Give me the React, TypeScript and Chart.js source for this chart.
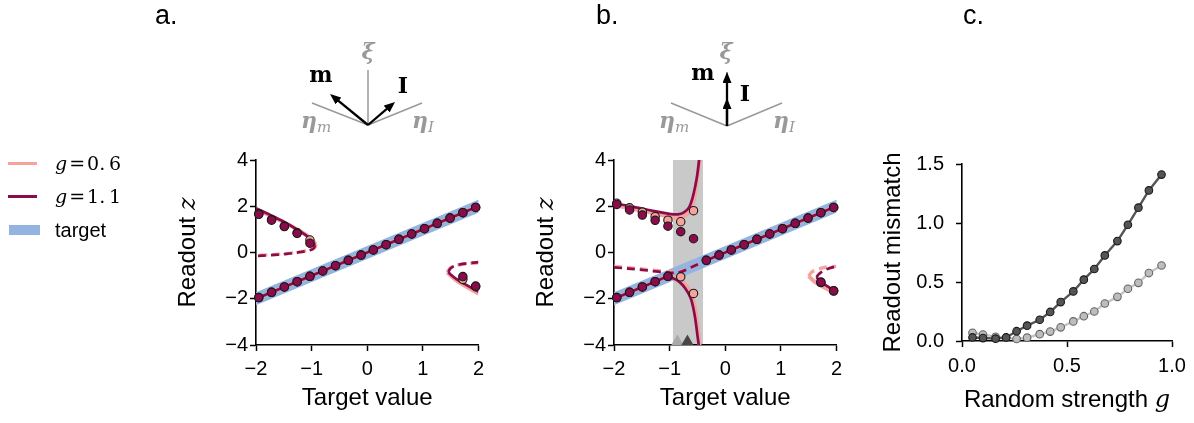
import React, { useEffect, useRef } from "react";
import { Chart, registerables } from "chart.js";
Chart.register(...registerables);

const SANS = "'Liberation Sans', Arial, Helvetica, sans-serif";
const SERIF = "'DejaVu Serif', serif";
const PINK = "#f6a39c";
const CRIMSON = "#8c0b4b";
const BLUE = "#93b4e0";
const BAND_GRAY = "#c9c9c9";

// ---------- ticks ----------
const abXTicks = [-2, -1, 0, 1, 2];
const abXLabels = ["\u22122", "\u22121", "0", "1", "2"];
const abYTicks = [-4, -2, 0, 2, 4];
const abYLabels = ["\u22124", "\u22122", "0", "2", "4"];
const cXTicks = [0, 0.5, 1.0];
const cXLabels = ["0.0", "0.5", "1.0"];
const cYTicks = [0, 0.5, 1.0, 1.5];
const cYLabels = ["0.0", "0.5", "1.0", "1.5"];

// ---------- shared: target line (y = x) ----------
const targetX = [-2.5, 2.5];
const targetY = [-2.5, 2.5];

// ---------- panel a ----------
const aMainX = [-2, 2];
const aMainY = [-2, 2];
const aUp11X = [-2, -1.75, -1.5, -1.25, -1.1, -1.0, -0.94];
const aUp11Y = [1.91, 1.63, 1.33, 0.98, 0.74, 0.53, 0.32];
const aUpDash11X = [-0.94, -0.96, -1.03, -1.2, -1.45, -1.75, -2];
const aUpDash11Y = [0.32, 0.19, 0.1, 0.02, -0.06, -0.12, -0.15];
const aUp06X = [-2, -1.75, -1.5, -1.25, -1.1, -1.0, -0.92];
const aUp06Y = [1.87, 1.6, 1.31, 0.98, 0.76, 0.57, 0.36];
const aUpDash06X = [-0.92, -0.94, -1.01, -1.2, -1.5, -2];
const aUpDash06Y = [0.36, 0.22, 0.12, 0.03, -0.06, -0.13];
const aRt11X = [1.46, 1.5, 1.6, 1.75, 1.9, 2];
const aRt11Y = [-0.84, -0.95, -1.14, -1.36, -1.56, -1.69];
const aRtDash11X = [1.46, 1.5, 1.6, 1.75, 1.9, 2];
const aRtDash11Y = [-0.84, -0.68, -0.56, -0.48, -0.44, -0.42];
const aRt06X = [1.44, 1.5, 1.6, 1.75, 1.9, 2];
const aRt06Y = [-0.86, -1.0, -1.2, -1.43, -1.64, -1.78];
const aRtDash06X = [1.44, 1.48, 1.58, 1.72, 1.88, 2];
const aRtDash06Y = [-0.86, -0.7, -0.58, -0.51, -0.47, -0.45];

const aDotMainX = [-1.95, -1.72, -1.49, -1.26, -1.03, -0.8, -0.57, -0.34, -0.11, 0.11, 0.34, 0.57, 0.8, 1.03, 1.26, 1.49, 1.72, 1.95];
const aDotMainY = [-1.95, -1.72, -1.49, -1.26, -1.03, -0.8, -0.57, -0.34, -0.11, 0.11, 0.34, 0.57, 0.8, 1.03, 1.26, 1.49, 1.72, 1.95];
const aDotUpX = [-1.95, -1.72, -1.49, -1.26, -1.03];
const aDotUp11Y = [1.65, 1.4, 1.12, 0.83, 0.4];
const aDotUp06Y = [1.68, 1.42, 1.14, 0.85, 0.54];
const aDotRtX = [1.72, 1.95];
const aDotRt11Y = [-1.04, -1.45];
const aDotRt06Y = [-1.16, -1.48];

// ---------- panel b ----------
const bBand = [-0.94, -0.4];
const bMainRtX = [-0.4, 2];
const bMainRtY = [-0.4, 2];
const bLow11X = [-2, -1.5, -1.2, -1.05, -0.95, -0.83, -0.72, -0.62, -0.55, -0.5, -0.46];
const bLow11Y = [-2, -1.5, -1.2, -1.06, -1.1, -1.26, -1.55, -1.98, -2.7, -3.57, -4.3];
const bLow06X = [-2, -1.5, -1.2, -1.05, -0.93, -0.8, -0.68, -0.59, -0.53, -0.49, -0.45];
const bLow06Y = [-2, -1.5, -1.2, -1.04, -1.06, -1.2, -1.5, -1.95, -2.6, -3.4, -4.3];
const bUp11X = [-2, -1.75, -1.5, -1.25, -1.0, -0.85, -0.75, -0.65, -0.59, -0.54, -0.5, -0.47, -0.45];
const bUp11Y = [2.12, 2.02, 1.9, 1.78, 1.67, 1.65, 1.72, 1.95, 2.34, 2.85, 3.4, 4.0, 4.4];
const bUp06X = [-2, -1.75, -1.5, -1.25, -1.0, -0.88, -0.75, -0.65, -0.58, -0.53, -0.49, -0.46, -0.44];
const bUp06Y = [2.05, 1.93, 1.8, 1.67, 1.55, 1.5, 1.56, 1.75, 2.15, 2.75, 3.45, 4.0, 4.4];
const bDash11X = [-2, -1.5, -1.2, -1.0, -0.83, -0.6, -0.4];
const bDash11Y = [-0.64, -0.75, -0.83, -0.88, -0.86, -0.63, -0.4];
const bDash06X = [-2, -1.5, -1.2, -1.0, -0.83, -0.6, -0.42];
const bDash06Y = [-0.6, -0.71, -0.79, -0.84, -0.83, -0.62, -0.42];
const bRt11X = [1.64, 1.72, 1.85, 2];
const bRt11Y = [-1.07, -1.27, -1.48, -1.72];
const bRtDash11X = [1.64, 1.7, 1.85, 2];
const bRtDash11Y = [-1.07, -0.9, -0.7, -0.6];
const bRt06X = [1.5, 1.6, 1.75, 1.9, 2];
const bRt06Y = [-1.02, -1.25, -1.47, -1.66, -1.78];
const bRtDash06X = [1.5, 1.56, 1.67, 1.8, 2];
const bRtDash06Y = [-1.02, -0.84, -0.72, -0.64, -0.6];

const bDotMainX = [-1.95, -1.72, -1.49, -1.26, -1.03, -0.34, -0.11, 0.11, 0.34, 0.57, 0.8, 1.03, 1.26, 1.49, 1.72, 1.95];
const bDotMainY = [-1.95, -1.72, -1.49, -1.26, -1.03, -0.34, -0.11, 0.11, 0.34, 0.57, 0.8, 1.03, 1.26, 1.49, 1.72, 1.95];
const bDotUpX = [-1.95, -1.72, -1.49, -1.26, -1.03, -0.8, -0.57];
const bDotUp11Y = [2.08, 1.84, 1.62, 1.39, 1.14, 0.9, 0.6];
const bDotUp06Y = [2.13, 1.93, 1.75, 1.55, 1.4, 1.33, 1.81];
const bDotLow06X = [-0.8, -0.57];
const bDotLow06Y = [-1.05, -1.77];
const bDotRtX = [1.72, 1.95];
const bDotRt11Y = [-1.28, -1.65];
const bDotRt06Y = [-1.3, -1.67];
const bTriX = [-0.86, -0.68];
const bTriY = [-3.85, -3.85];

// ---------- panel c ----------
const gValues = [0.05, 0.1, 0.16, 0.21, 0.26, 0.31, 0.37, 0.42, 0.47, 0.53, 0.58, 0.63, 0.68, 0.74, 0.79, 0.84, 0.89, 0.95];
const mismatchDark = [0.03, 0.025, 0.02, 0.03, 0.083, 0.13, 0.18, 0.246, 0.33, 0.42, 0.52, 0.61, 0.725, 0.847, 0.985, 1.13, 1.276, 1.41];
const mismatchLight = [0.069, 0.055, 0.035, 0.028, 0.017, 0.028, 0.058, 0.08, 0.116, 0.166, 0.21, 0.25, 0.318, 0.374, 0.443, 0.493, 0.576, 0.64];

// ---------- helpers ----------
type Pt = { x: number; y: number };
const zip = (xs: number[], ys: number[]): Pt[] => xs.map((x, i) => ({ x, y: ys[i] }));

const CW = 2.7; // crimson width
const PW = 4; // pink width

function lineDs(xs: number[], ys: number[], color: string, width: number, dashed = false, extra: any = {}) {
  return {
    data: zip(xs, ys),
    showLine: true,
    borderColor: color,
    borderWidth: width,
    borderDash: dashed ? [8, 5] : [],
    borderCapStyle: "butt",
    pointRadius: 0,
    pointHoverRadius: 0,
    tension: 0.35,
    fill: false,
    ...extra,
  };
}
function dotDs(pts: Pt[], fill: string, edge = "#1a1a1a", r = 4.2) {
  return {
    data: pts,
    showLine: false,
    pointRadius: r,
    pointHoverRadius: r,
    pointBackgroundColor: fill,
    pointBorderColor: edge,
    pointBorderWidth: 1.1,
    clip: false,
  };
}

const richTitles = {
  id: "richTitles",
  afterDraw(chart: any) {
    const o = chart.options.plugins.richTitles;
    if (!o) return;
    const { ctx, chartArea: a } = chart;
    const measure = (parts: any[]) =>
      parts.reduce((s, p) => {
        ctx.font = p.font;
        return s + ctx.measureText(p.text).width;
      }, 0);
    const draw = (parts: any[], x0: number, y0: number) => {
      let x = x0;
      for (const p of parts) {
        ctx.font = p.font;
        ctx.fillText(p.text, x, y0);
        x += ctx.measureText(p.text).width;
      }
    };
    ctx.save();
    ctx.fillStyle = "#000";
    ctx.textAlign = "left";
    ctx.textBaseline = "alphabetic";
    if (o.x) {
      const w = measure(o.x.parts);
      draw(o.x.parts, (a.left + a.right) / 2 - w / 2, a.bottom + o.x.offset);
    }
    if (o.y) {
      ctx.translate(a.left - o.y.offset, (a.top + a.bottom) / 2);
      ctx.rotate(-Math.PI / 2);
      const w = measure(o.y.parts);
      draw(o.y.parts, -w / 2, 0);
    }
    ctx.restore();
  },
};

const shadeBand = {
  id: "shadeBand",
  beforeDraw(chart: any) {
    const o = chart.options.plugins.shadeBand;
    if (!o) return;
    const { ctx, chartArea: a, scales } = chart;
    const x0 = scales.x.getPixelForValue(o.range[0]);
    const x1 = scales.x.getPixelForValue(o.range[1]);
    ctx.save();
    ctx.fillStyle = o.color;
    ctx.fillRect(x0, a.top, x1 - x0, a.bottom - a.top);
    ctx.restore();
  },
};

function axis(ticks: number[], labels: string[], min: number, max: number, fit: (s: any) => void, pad: number) {
  return {
    type: "linear",
    min,
    max,
    afterBuildTicks: (s: any) => {
      s.ticks = ticks.map((v) => ({ value: v }));
    },
    ticks: {
      callback: (_v: any, i: number) => labels[i],
      color: "#000",
      font: { family: SANS, size: 20 },
      padding: pad,
      maxRotation: 0,
      autoSkip: false,
    },
    grid: { drawOnChartArea: false, drawTicks: true, tickLength: 6, tickWidth: 1.5, tickColor: "#000" },
    border: { display: true, color: "#000", width: 1.6 },
    afterFit: fit,
  };
}

const sansT = `24px ${SANS}`;
const italT = `italic 24px ${SERIF}`;

function baseOptions(padRight: number, xAxis: any, yAxis: any, titles: any, extraPlugins: any = {}) {
  return {
    responsive: false,
    animation: false,
    layout: { padding: { left: 0, top: 20, right: padRight, bottom: 0 } },
    scales: { x: xAxis, y: yAxis },
    plugins: { legend: { display: false }, tooltip: { enabled: false }, richTitles: titles, ...extraPlugins },
    events: [],
  };
}

function configA() {
  const datasets: any[] = [
    dotDs([...zip(aDotMainX, aDotMainY), ...zip(aDotUpX, aDotUp11Y), ...zip(aDotRtX, aDotRt11Y)], CRIMSON),
    dotDs([...zip(aDotMainX, aDotMainY), ...zip(aDotUpX, aDotUp06Y), ...zip(aDotRtX, aDotRt06Y)], PINK),
    lineDs(aMainX, aMainY, CRIMSON, CW),
    lineDs(aUp11X, aUp11Y, CRIMSON, CW),
    lineDs(aUpDash11X, aUpDash11Y, CRIMSON, CW, true),
    lineDs(aRt11X, aRt11Y, CRIMSON, CW),
    lineDs(aRtDash11X, aRtDash11Y, CRIMSON, CW, true),
    lineDs(aMainX, aMainY, PINK, PW),
    lineDs(aUp06X, aUp06Y, PINK, PW),
    lineDs(aUpDash06X, aUpDash06Y, PINK, 3.4, true),
    lineDs(aRt06X, aRt06Y, PINK, PW),
    lineDs(aRtDash06X, aRtDash06Y, PINK, 3.4, true),
    lineDs(targetX, targetY, BLUE, 12, false, { tension: 0, clip: 0 }),
  ];
  return {
    type: "scatter",
    data: { datasets },
    options: baseOptions(
      11,
      axis(abXTicks, abXLabels, -2, 2, (s: any) => { s.height = 78; }, 6),
      axis(abYTicks, abYLabels, -4, 4, (s: any) => { s.width = 86; }, 2),
      {
        x: { parts: [{ text: "Target value", font: sansT }], offset: 60 },
        y: { parts: [{ text: "Readout ", font: sansT }, { text: "z", font: italT }], offset: 61 },
      }
    ),
    plugins: [richTitles],
  };
}

function configB() {
  const datasets: any[] = [
    dotDs([...zip(bDotMainX, bDotMainY), ...zip(bDotUpX, bDotUp11Y), ...zip(bDotRtX, bDotRt11Y)], CRIMSON),
    dotDs([...zip(bDotMainX, bDotMainY), ...zip(bDotUpX, bDotUp06Y), ...zip(bDotLow06X, bDotLow06Y), ...zip(bDotRtX, bDotRt06Y)], PINK),
    {
      data: zip(bTriX, bTriY),
      showLine: false,
      pointStyle: "triangle",
      pointRadius: 7,
      pointHoverRadius: 7,
      pointBackgroundColor: ["#a8a8a8", "#474747"],
      pointBorderWidth: 0,
      clip: false,
    },
    lineDs(bMainRtX, bMainRtY, CRIMSON, CW),
    lineDs(bLow11X, bLow11Y, CRIMSON, CW),
    lineDs(bUp11X, bUp11Y, CRIMSON, CW),
    lineDs(bDash11X, bDash11Y, CRIMSON, CW, true),
    lineDs(bRt11X, bRt11Y, CRIMSON, CW),
    lineDs(bRtDash11X, bRtDash11Y, CRIMSON, CW, true),
    lineDs(bMainRtX, bMainRtY, PINK, PW),
    lineDs(bLow06X, bLow06Y, PINK, PW),
    lineDs(bUp06X, bUp06Y, PINK, PW),
    lineDs(bDash06X, bDash06Y, PINK, 3.4, true),
    lineDs(bRt06X, bRt06Y, PINK, PW),
    lineDs(bRtDash06X, bRtDash06Y, PINK, 3.4, true),
    lineDs(targetX, targetY, BLUE, 12, false, { tension: 0, clip: 0 }),
  ];
  return {
    type: "scatter",
    data: { datasets },
    options: baseOptions(
      9,
      axis(abXTicks, abXLabels, -2, 2, (s: any) => { s.height = 78; }, 6),
      axis(abYTicks, abYLabels, -4, 4, (s: any) => { s.width = 86; }, 2),
      {
        x: { parts: [{ text: "Target value", font: sansT }], offset: 60 },
        y: { parts: [{ text: "Readout ", font: sansT }, { text: "z", font: italT }], offset: 61 },
      },
      { shadeBand: { range: bBand, color: BAND_GRAY } }
    ),
    plugins: [richTitles, shadeBand],
  };
}

function configC() {
  const datasets: any[] = [
    {
      ...dotDs(zip(gValues, mismatchDark), "#555555", "#1a1a1a", 3.8),
      showLine: true,
      borderColor: "#555555",
      borderWidth: 2.4,
      tension: 0,
    },
    {
      ...dotDs(zip(gValues, mismatchLight), "#bdbdbd", "#666666", 3.8),
      showLine: true,
      borderColor: "#c4c4c4",
      borderWidth: 2.4,
      tension: 0,
    },
  ];
  return {
    type: "scatter",
    data: { datasets },
    options: baseOptions(
      22,
      axis(cXTicks, cXLabels, 0, 1, (s: any) => { s.height = 82; }, 7),
      axis(cYTicks, cYLabels, 0, 1.5, (s: any) => { s.width = 86; }, 12),
      {
        x: { parts: [{ text: "Random strength ", font: sansT }, { text: "g", font: italT }], offset: 66 },
        y: { parts: [{ text: "Readout mismatch", font: sansT }], offset: 62 },
      }
    ),
    plugins: [richTitles],
  };
}

function ChartCanvas({ make, left, top, width, height }: any) {
  const ref = useRef<HTMLCanvasElement | null>(null);
  useEffect(() => {
    if (!ref.current) return;
    const ch = new Chart(ref.current, make());
    return () => ch.destroy();
  }, []);
  return (
    <canvas
      ref={ref}
      width={width}
      height={height}
      style={{ position: "absolute", left, top, width, height }}
    />
  );
}

const gray = "#999999";

function Diagrams() {
  const lbl = { fontFamily: SERIF, fill: gray } as any;
  const bold = { fontFamily: SERIF, fontSize: 22, fontWeight: "bold" } as any;
  return (
    <svg width={1194} height={423} style={{ position: "absolute", left: 0, top: 0, pointerEvents: "none" }}>
      <defs>
        <marker id="ah" viewBox="0 0 11 9" refX="6" refY="4.5" markerWidth="11" markerHeight="9" markerUnits="userSpaceOnUse" orient="auto">
          <path d="M0,0 L11,4.5 L0,9 z" fill="#000" />
        </marker>
      </defs>
      <text x={155} y={24} style={{ fontFamily: SANS, fontSize: 27 }}>a.</text>
      <text x={596} y={24} style={{ fontFamily: SANS, fontSize: 27 }}>b.</text>
      <text x={963} y={24} style={{ fontFamily: SANS, fontSize: 27 }}>c.</text>

      {/* diagram a */}
      <g stroke={gray} strokeWidth={1.5}>
        <line x1={368} y1={125} x2={368} y2={70} />
        <line x1={368} y1={125} x2={312} y2={103} />
        <line x1={368} y1={125} x2={422} y2={103} />
      </g>
      <g stroke="#000" strokeWidth={2.3}>
        <line x1={368} y1={125} x2={333.9} y2={97.2} markerEnd="url(#ah)" />
        <line x1={368} y1={125} x2={391.2} y2={105.2} markerEnd="url(#ah)" />
      </g>
      <text x={368} y={59} textAnchor="middle" style={{ ...lbl, fontSize: 22, fontWeight: "bold", fontStyle: "italic" }}>ξ</text>
      <text x={321} y={82} textAnchor="middle" style={bold}>m</text>
      <text x={403} y={93} textAnchor="middle" style={bold}>I</text>
      <text x={301} y={128} style={{ ...lbl, fontSize: 22, fontWeight: "bold", fontStyle: "italic" }}>
        η<tspan fontSize={15} dy={4} fontWeight="normal">m</tspan>
      </text>
      <text x={412} y={128} style={{ ...lbl, fontSize: 22, fontWeight: "bold", fontStyle: "italic" }}>
        η<tspan fontSize={15} dy={4} fontWeight="normal">I</tspan>
      </text>

      {/* diagram b */}
      <g stroke={gray} strokeWidth={1.5}>
        <line x1={727} y1={126} x2={727} y2={72} />
        <line x1={727} y1={126} x2={671} y2={103} />
        <line x1={727} y1={126} x2={782} y2={103} />
      </g>
      <g stroke="#000" strokeWidth={2.3}>
        <line x1={727} y1={126} x2={727} y2={77} markerEnd="url(#ah)" />
        <line x1={727} y1={126} x2={727} y2={103} markerEnd="url(#ah)" />
      </g>
      <text x={726} y={59} textAnchor="middle" style={{ ...lbl, fontSize: 22, fontWeight: "bold", fontStyle: "italic" }}>ξ</text>
      <text x={703} y={80} textAnchor="middle" style={bold}>m</text>
      <text x={745} y={101} textAnchor="middle" style={bold}>I</text>
      <text x={659} y={128} style={{ ...lbl, fontSize: 22, fontWeight: "bold", fontStyle: "italic" }}>
        η<tspan fontSize={15} dy={4} fontWeight="normal">m</tspan>
      </text>
      <text x={773} y={128} style={{ ...lbl, fontSize: 22, fontWeight: "bold", fontStyle: "italic" }}>
        η<tspan fontSize={15} dy={4} fontWeight="normal">I</tspan>
      </text>
    </svg>
  );
}

function Legend() {
  const row = (top: number, swatch: React.ReactNode, label: React.ReactNode) => (
    <div style={{ position: "absolute", left: 0, top, height: 24, width: 170 }}>
      {swatch}
      <div style={{ position: "absolute", left: 55, top: 0, lineHeight: "24px", whiteSpace: "nowrap" }}>{label}</div>
    </div>
  );
  const lineSw = (color: string) => (
    <div style={{ position: "absolute", left: 8, top: 10.5, width: 29, height: 3, background: color }} />
  );
  const math = (v: string) => (
    <span style={{ fontFamily: SERIF, fontSize: 19 }}>
      <i>g</i>
      <span style={{ margin: "0 2px" }}>=</span>
      {v}
    </span>
  );
  return (
    <div>
      {row(151, lineSw(PINK), math("0.\u20096"))}
      {row(184, lineSw(CRIMSON), math("1.\u20091"))}
      {row(218, <div style={{ position: "absolute", left: 9, top: 7, width: 31, height: 10, background: BLUE }} />,
        <span style={{ fontFamily: SANS, fontSize: 20 }}>target</span>)}
    </div>
  );
}

export default function App() {
  return (
    <div style={{ position: "fixed", left: 0, top: 0, width: 1194, height: 423, background: "#fff", overflow: "hidden" }}>
      <ChartCanvas make={configA} left={170} top={140} width={320} height={283} />
      <ChartCanvas make={configB} left={528} top={140} width={320} height={283} />
      <ChartCanvas make={configC} left={876} top={140} width={318} height={283} />
      <Diagrams />
      <Legend />
    </div>
  );
}
